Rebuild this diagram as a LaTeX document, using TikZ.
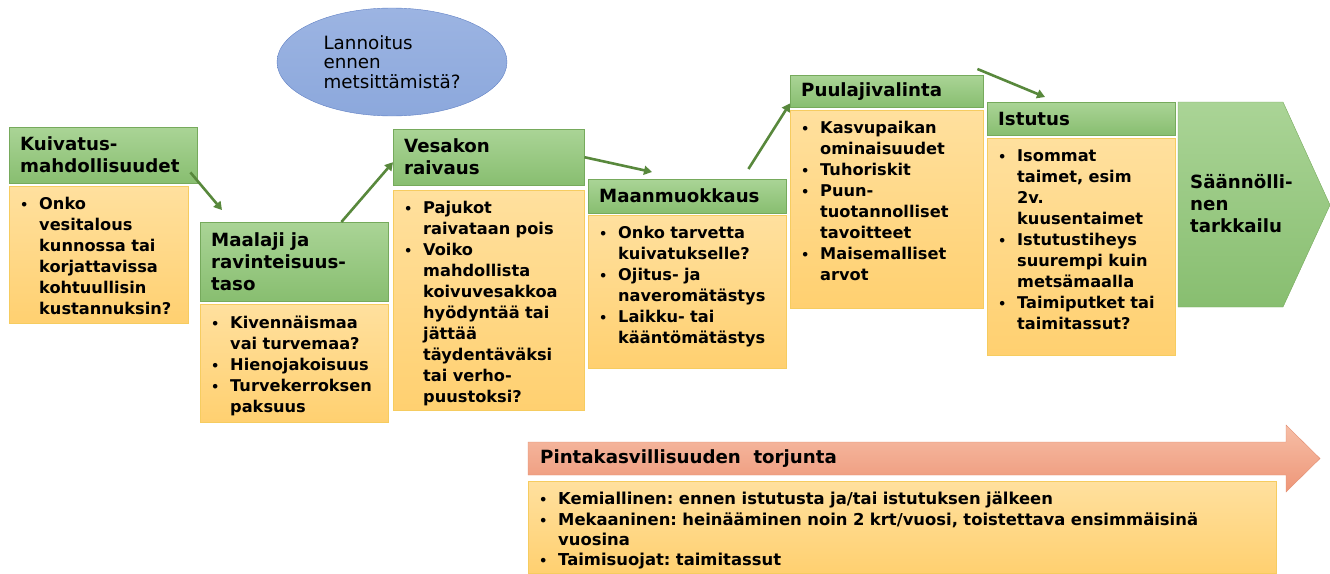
\documentclass[tikz,border=0pt]{standalone}
\usepackage{fontspec}
\setmainfont{DejaVu Sans}
\usepackage{enumitem}
\usetikzlibrary{positioning,arrows.meta,shapes.geometric}

\definecolor{hdrgreen}{RGB}{136,190,112}
\definecolor{hdrtop}{RGB}{170,212,150}
\definecolor{hdrline}{RGB}{118,170,92}
\definecolor{bodyorange}{RGB}{255,208,112}
\definecolor{bodytop}{RGB}{255,224,158}
\definecolor{bodyline}{RGB}{246,204,96}
\definecolor{flowgreen}{RGB}{88,136,60}
\definecolor{ovalblue}{RGB}{140,168,220}
\definecolor{ovaltop}{RGB}{156,180,226}
\definecolor{ovalline}{RGB}{96,128,196}
\definecolor{salmon}{RGB}{238,150,120}
\definecolor{salmontop}{RGB}{246,190,166}
\definecolor{salmonline}{RGB}{226,140,112}

\newcommand{\hdrfont}{\bfseries\fontsize{18.2pt}{22pt}\selectfont}
\newcommand{\bodyfont}{\bfseries\fontsize{16.2pt}{21pt}\selectfont}
\newcommand{\notefont}{\bfseries\fontsize{16.4pt}{20.3pt}\selectfont}
\newcommand{\ovalfont}{\fontsize{18.3pt}{19.5pt}\selectfont}

\newlist{steplist}{itemize}{1}
\setlist[steplist]{label={\scalebox{0.8}{\textbullet}}, leftmargin=19pt, labelsep=0pt,
  labelwidth=19pt, align=left, itemsep=0pt, parsep=0pt, topsep=0pt, partopsep=0pt}
\newcommand{\stepbody}[2]{\vbox to #1{\frenchspacing\begin{steplist}#2\end{steplist}\vfil}}

\begin{document}
\begin{tikzpicture}[x=1pt, y=-1pt,
  hdr/.style={draw=hdrline, top color=hdrtop, bottom color=hdrgreen, anchor=north west,
    align=left, inner xsep=11pt, inner ysep=0pt, font=\hdrfont},
  body/.style={draw=bodyline, top color=bodytop, bottom color=bodyorange,
    align=left, inner xsep=11pt, inner ysep=11pt, font=\bodyfont},
  flow/.style={draw=flowgreen, line width=2.6pt, -{Triangle[length=8pt,width=9pt]}}]
  \useasboundingbox (0,0) rectangle (1330,573);

  % Fertilisation question
  \node[ellipse, draw=ovalline, top color=ovaltop, bottom color=ovalblue, minimum width=230pt,
    minimum height=108pt, inner sep=0pt, align=left, font=\ovalfont] (lann) at (392,62)
    {Lannoitus\\ennen\\metsittämistä?};

  % Define the steps
  \node[hdr, minimum width=188pt, minimum height=56pt, text width=166pt] (kuiv) at (9,127)
    {Kuivatus-\\mahdollisuudet};
  \node[body, below=3pt of kuiv.south west, anchor=north west, text width=157pt] (kuivb)
    {\stepbody{115pt}{\item Onko\\vesitalous\\kunnossa tai\\korjattavissa\\kohtuullisin\\kustannuksin?}};

  \node[hdr, minimum width=188pt, minimum height=79pt, text width=166pt] (maal) at (200,222)
    {Maalaji ja\\ravinteisuus-\\taso};
  \node[body, below=3pt of maal.south west, anchor=north west, text width=166pt] (maalb)
    {\stepbody{96pt}{\item Kivennäismaa\\vai turvemaa? \item Hienojakoisuus \item Turvekerroksen\\paksuus}};

  \node[hdr, minimum width=191pt, minimum height=56pt, text width=169pt] (vesa) at (393,129)
    {Vesakon\\raivaus};
  \node[body, below=5pt of vesa.south west, anchor=north west, text width=169pt] (vesab)
    {\stepbody{198pt}{\item Pajukot\\raivataan pois \item Voiko\\mahdollista\\koivuvesakkoa\\hyödyntää tai\\jättää\\täydentäväksi\\tai verho-\\puustoksi?}};

  \node[hdr, minimum width=198pt, minimum height=34pt, text width=176pt] (maan) at (588,179)
    {Maanmuokkaus};
  \node[body, below=2pt of maan.south west, anchor=north west, text width=176pt] (maanb)
    {\stepbody{131pt}{\item Onko tarvetta\\kuivatukselle? \item Ojitus- ja\\naveromätästys \item Laikku- tai\\kääntömätästys}};

  \node[hdr, minimum width=193pt, minimum height=32pt, text width=171pt] (puul) at (790,75)
    {Puulajivalinta};
  \node[body, below=3pt of puul.south west, anchor=north west, text width=171pt] (puulb)
    {\stepbody{176pt}{\item Kasvupaikan\\ominaisuudet \item Tuhoriskit \item Puun-\\tuotannolliset\\tavoitteet \item Maisemalliset\\arvot}};

  \node[hdr, minimum width=188pt, minimum height=33pt, text width=166pt] (istu) at (987,102)
    {Istutus};
  \node[body, below=3pt of istu.south west, anchor=north west, text width=166pt] (istub)
    {\stepbody{195pt}{\item Isommat\\taimet, esim\\2v.\\kuusentaimet \item Istutustiheys\\suurempi kuin\\metsämaalla \item Taimiputket tai\\taimitassut?}};

  % Last step as a chevron
  \draw[hdrline, top color=hdrtop, bottom color=hdrgreen]
    (1178,102) -- (1283,102) -- (1330,205) -- (1283,307) -- (1178,307) -- cycle;
  \node[anchor=west, inner sep=0pt, align=left, font=\hdrfont] (seur) at (1190,204)
    {Säännölli-\\nen\\tarkkailu};

  % Arrows between the steps
  \draw[flow] ([shift={(-7,-11)}]kuiv.south east) -- ([shift={(22,-12)}]maal.north west);
  \draw[flow] ([shift={(-47,0)}]maal.north east) -- ([shift={(0,5)}]vesa.west);
  \draw[flow] (vesa.east) -- ([shift={(64,-7)}]maan.north west);
  \draw[flow] ([shift={(-38,-10)}]maan.north east) -- ([shift={(0,-4)}]puul.south west);
  \draw[flow] ([shift={(-6,-6)}]puul.north east) -- ([shift={(58,-5)}]istu.north west);

  % Weed control along the bottom
  \draw[salmonline, top color=salmontop, bottom color=salmon]
    (528,442) -- (1286,442) -- (1286,425) -- (1320,458.5) -- (1286,492) -- (1286,475)
    -- (528,475) -- cycle;
  \node[anchor=west, inner sep=0pt, font=\hdrfont] (pint)
    at (540,459) {Pintakasvillisuuden\ \ torjunta};
  \node[body, anchor=north west, text width=726pt, font=\notefont] (pintb) at (528,481)
    {\stepbody{70pt}{\item Kemiallinen: ennen istutusta ja/tai istutuksen jälkeen
      \item Mekaaninen: heinääminen noin 2 krt/vuosi, toistettava ensimmäisinä\\vuosina
      \item Taimisuojat: taimitassut}};
\end{tikzpicture}
\end{document}
